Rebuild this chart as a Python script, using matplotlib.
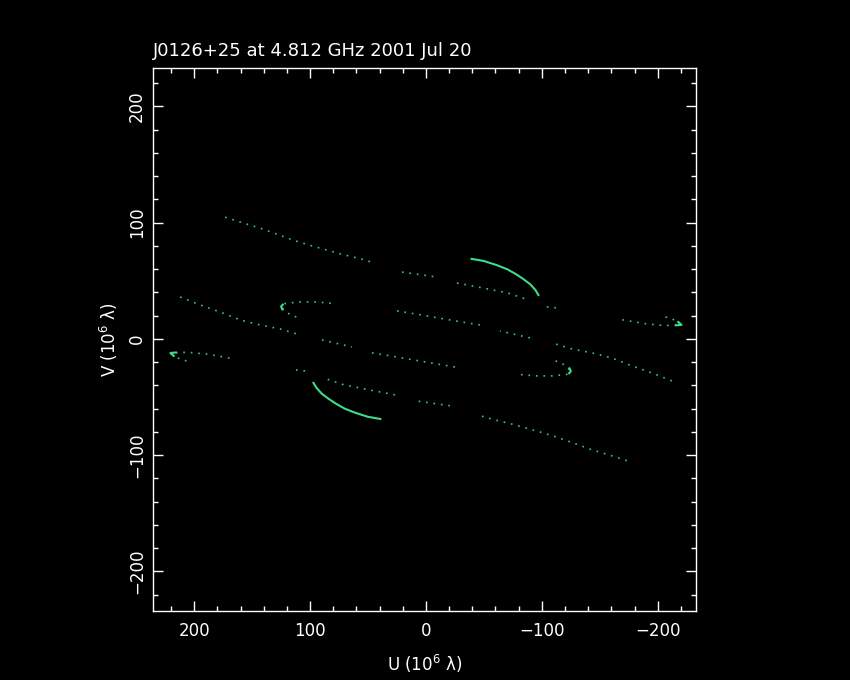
import numpy as np
import matplotlib.pyplot as plt

nan = np.nan

# uv tracks in units of 10^6 lambda (one half; the conjugate half is -u, -v)
t1_u = [173.3, 158.0, 143.1, 128.9, 114.7, 100.0, 85.3, 71.5, 58.6, 44.0, nan,
        20.7, -9.5, nan, -26.7, -49.1, -70.7, -87.1, nan, -104.3, -113.8]
t1_v = [104.7, 99.8, 95.3, 90.2, 85.0, 80.5, 76.4, 72.5, 69.5, 65.2, nan,
        57.5, 53.2, nan, 48.1, 43.8, 39.5, 34.0, nan, 27.5, 26.6]

arc_u = [-38.5, -50.0, -61.0, -70.0, -78.0, -84.0, -90.0, -94.5, -97.5]
arc_v = [69.0, 67.0, 63.5, 60.0, 55.5, 51.5, 47.0, 42.0, 37.0]

a_u = [212.1, 194.8, 177.6, 160.3, 143.1, 125.9, 108.6, nan, 89.7, 63.8, nan,
       46.6, 22.4, -3.4, -29.3]
a_v = [36.1, 29.2, 23.2, 16.3, 12.0, 8.6, 3.4, nan, -0.9, -6.9, nan,
       -12.0, -16.0, -20.5, -24.9]

h1_u = [82.0, 95.0, 109.0, 121.5, 124.5, 122.0, 115.5, 108.5]
h1_v = [30.7, 31.8, 31.8, 30.5, 27.8, 24.0, 20.0, 18.0]
h1_tip_u = [123.0, 125.0, 123.5]
h1_tip_v = [30.2, 27.8, 24.5]

h2_u = [169.5, 188.0, 205.5, 220.0, 216.0, 212.0, 205.5]
h2_v = [-16.5, -13.2, -11.5, -12.0, -15.0, -17.5, -19.2]
h2_tip_u = [215.0, 220.5, 217.0]
h2_tip_v = [-11.6, -12.1, -15.2]

dotted = [(t1_u, t1_v), (a_u, a_v), (h1_u, h1_v), (h2_u, h2_v)]
solid = [(arc_u, arc_v), (h1_tip_u, h1_tip_v), (h2_tip_u, h2_tip_v)]

green = '#3ddc8c'

fig = plt.figure(figsize=(8.5, 6.8), dpi=100, facecolor='black')
ax = fig.add_axes([153 / 850, 69 / 680, 543 / 850, 543 / 680], facecolor='black')

for u, v in dotted:
    u = np.array(u)
    v = np.array(v)
    for s in (1, -1):
        ax.plot(s * u, s * v, color=green, lw=1.2, ls=(0, (1, 3.5)), alpha=0.9)
for u, v in solid:
    u = np.array(u)
    v = np.array(v)
    for s in (1, -1):
        ax.plot(s * u, s * v, color=green, lw=1.5, solid_capstyle='butt')

ax.set_xlim(235.5, -233)
ax.set_ylim(-234, 233)
ax.set_xticks([200, 100, 0, -100, -200])
ax.set_yticks([-200, -100, 0, 100, 200])
ax.set_xticks(np.arange(-220, 240, 20), minor=True)
ax.set_yticks(np.arange(-220, 240, 20), minor=True)

for sp in ax.spines.values():
    sp.set_color('white')
    sp.set_linewidth(1)
ax.tick_params(which='both', direction='in', colors='white', top=True, right=True,
               labelsize=12, width=1)
ax.tick_params(which='major', length=7)
ax.tick_params(which='minor', length=3.8)
ax.tick_params(axis='x', pad=8)
ax.tick_params(axis='y', pad=5)
for lab in ax.get_yticklabels():
    lab.set_rotation(90)
    lab.set_va('center')

ax.set_xlabel('U (10$^6$ λ)', color='white', fontsize=12, labelpad=9)
ax.set_ylabel('V (10$^6$ λ)', color='white', fontsize=12, labelpad=6)
ax.set_title('J0126+25 at 4.812 GHz 2001 Jul 20', color='white', fontsize=13,
             loc='left', pad=9)

fig.savefig('out.png', dpi=100, facecolor='black')
